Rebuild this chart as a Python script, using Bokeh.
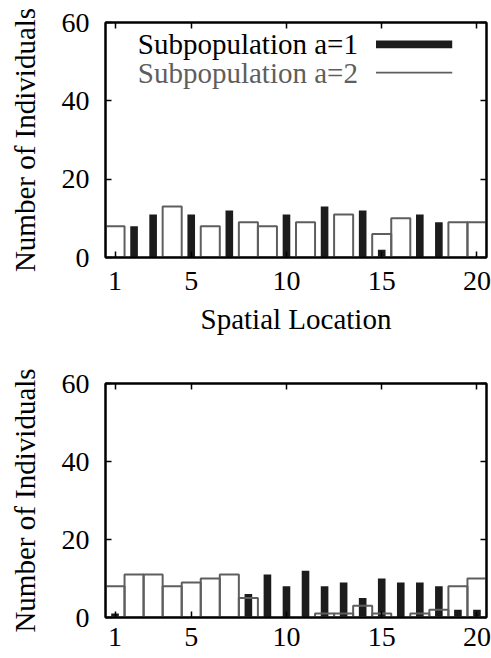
from bokeh.plotting import figure
from bokeh.models import (Range1d, FixedTicker, LinearAxis, Label, BoxAnnotation,
                          CustomLabelingPolicy)
from bokeh.layouts import column
from bokeh.embed import file_html
from bokeh.resources import INLINE

# ---------------- data ----------------
locations = list(range(1, 21))
x_ticks = [1, 5, 10, 15, 20]
y_ticks = [0, 20, 40, 60]
series_names = ["Subpopulation a=1", "Subpopulation a=2"]

# top panel
top_a1 = [0, 8, 11, 0, 11, 0, 12, 0, 0, 11, 0, 13, 0, 12, 2, 0, 11, 9, 0, 0]
top_a2 = [8, 0, 0, 13, 0, 8, 0, 9, 8, 0, 9, 0, 11, 0, 6, 10, 0, 0, 9, 9]
# bottom panel
bot_a1 = [1, 0, 0, 0, 0, 0, 0, 6, 11, 8, 12, 8, 9, 5, 10, 9, 9, 8, 2, 2]
bot_a2 = [8, 11, 11, 8, 9, 10, 11, 5, 0, 0, 0, 1, 1, 3, 1, 0, 1, 2, 8, 10]

FONT = "'Liberation Serif', 'DejaVu Serif', serif"
TICK_FS = "28px"
LABEL_FS = "29px"
BLACK = "#1c1c1c"
GREY = "#5e5e5e"


def style_axis(ax, ticks, show_labels, standoff):
    ax.ticker = FixedTicker(ticks=ticks)
    ax.major_tick_in = 6
    ax.major_tick_out = 0
    ax.major_tick_line_width = 1.5
    ax.major_tick_line_color = "black"
    ax.minor_tick_line_color = None
    ax.axis_line_color = "black"
    ax.axis_line_width = 2
    ax.major_label_text_font = FONT
    ax.major_label_text_color = "black"
    ax.major_label_text_font_size = TICK_FS
    ax.axis_label_text_font = FONT
    ax.axis_label_text_font_style = "normal"
    ax.axis_label_text_font_size = LABEL_FS
    ax.axis_label_text_color = "black"
    if show_labels:
        ax.major_label_standoff = standoff
    else:
        # mirror axis (gnuplot style): ticks only, no labels, no space taken
        ax.major_label_standoff = 0
        ax.major_label_overrides = {t: "" for t in ticks}
        ax.major_label_policy = CustomLabelingPolicy(code="return new Set()")


def make_panel(a1, a2, height, border_top, border_bottom, xlabel, x_standoff):
    p = figure(width=491, height=height,
               x_range=Range1d(0.5, 20.5), y_range=Range1d(0, 60),
               output_backend="svg", toolbar_location=None,
               min_border_left=105, min_border_right=5,
               min_border_top=border_top, min_border_bottom=border_bottom)
    p.grid.visible = False
    p.outline_line_color = "black"
    p.outline_line_width = 2
    p.background_fill_color = "white"
    p.border_fill_color = "white"

    x1 = [loc for loc, v in zip(locations, a1) if v > 0]
    v1 = [v for v in a1 if v > 0]
    x2 = [loc for loc, v in zip(locations, a2) if v > 0]
    v2 = [v for v in a2 if v > 0]

    p.vbar(x=x1, top=v1, bottom=0, width=0.4, fill_color=BLACK, line_color=None)
    p.vbar(x=x2, top=v2, bottom=0, width=1.0, fill_color=None,
           line_color=GREY, line_width=2)

    style_axis(p.xaxis[0], x_ticks, True, x_standoff)
    style_axis(p.yaxis[0], y_ticks, True, 16)
    p.yaxis[0].axis_label = "Number of Individuals"
    p.yaxis[0].axis_label_standoff = 18
    if xlabel:
        p.xaxis[0].axis_label = xlabel
        p.xaxis[0].axis_label_standoff = 10

    top_ax = LinearAxis()
    style_axis(top_ax, x_ticks, False, 0)
    p.add_layout(top_ax, "above")
    right_ax = LinearAxis()
    style_axis(right_ax, y_ticks, False, 0)
    p.add_layout(right_ax, "right")
    return p


# top: frame 22..257 ; bottom: frame 383..617 (page pixels)
p1 = make_panel(top_a1, top_a2, 360, 22, 103, "Spatial Location", 14)
p2 = make_panel(bot_a1, bot_a2, 298, 23, 41, None, 10)

# legend (key drawn to the right of the text, as in the original)
p1.add_layout(Label(x=13.75, y=54.4, text=series_names[0], text_align="right",
                    text_baseline="middle", text_font=FONT,
                    text_font_size=LABEL_FS, text_color="black"))
p1.add_layout(Label(x=13.75, y=47.2, text=series_names[1], text_align="right",
                    text_baseline="middle", text_font=FONT,
                    text_font_size=LABEL_FS, text_color=GREY))
p1.add_layout(BoxAnnotation(left=14.7, right=18.7, bottom=53.4, top=55.4,
                            fill_color=BLACK, fill_alpha=1, line_color=None))
p1.add_layout(BoxAnnotation(left=14.7, right=18.7, bottom=47.0, top=47.4,
                            fill_color=GREY, fill_alpha=1, line_color=None))

layout = column(p1, p2)
open("out.html", "w").write(file_html(layout, INLINE))
